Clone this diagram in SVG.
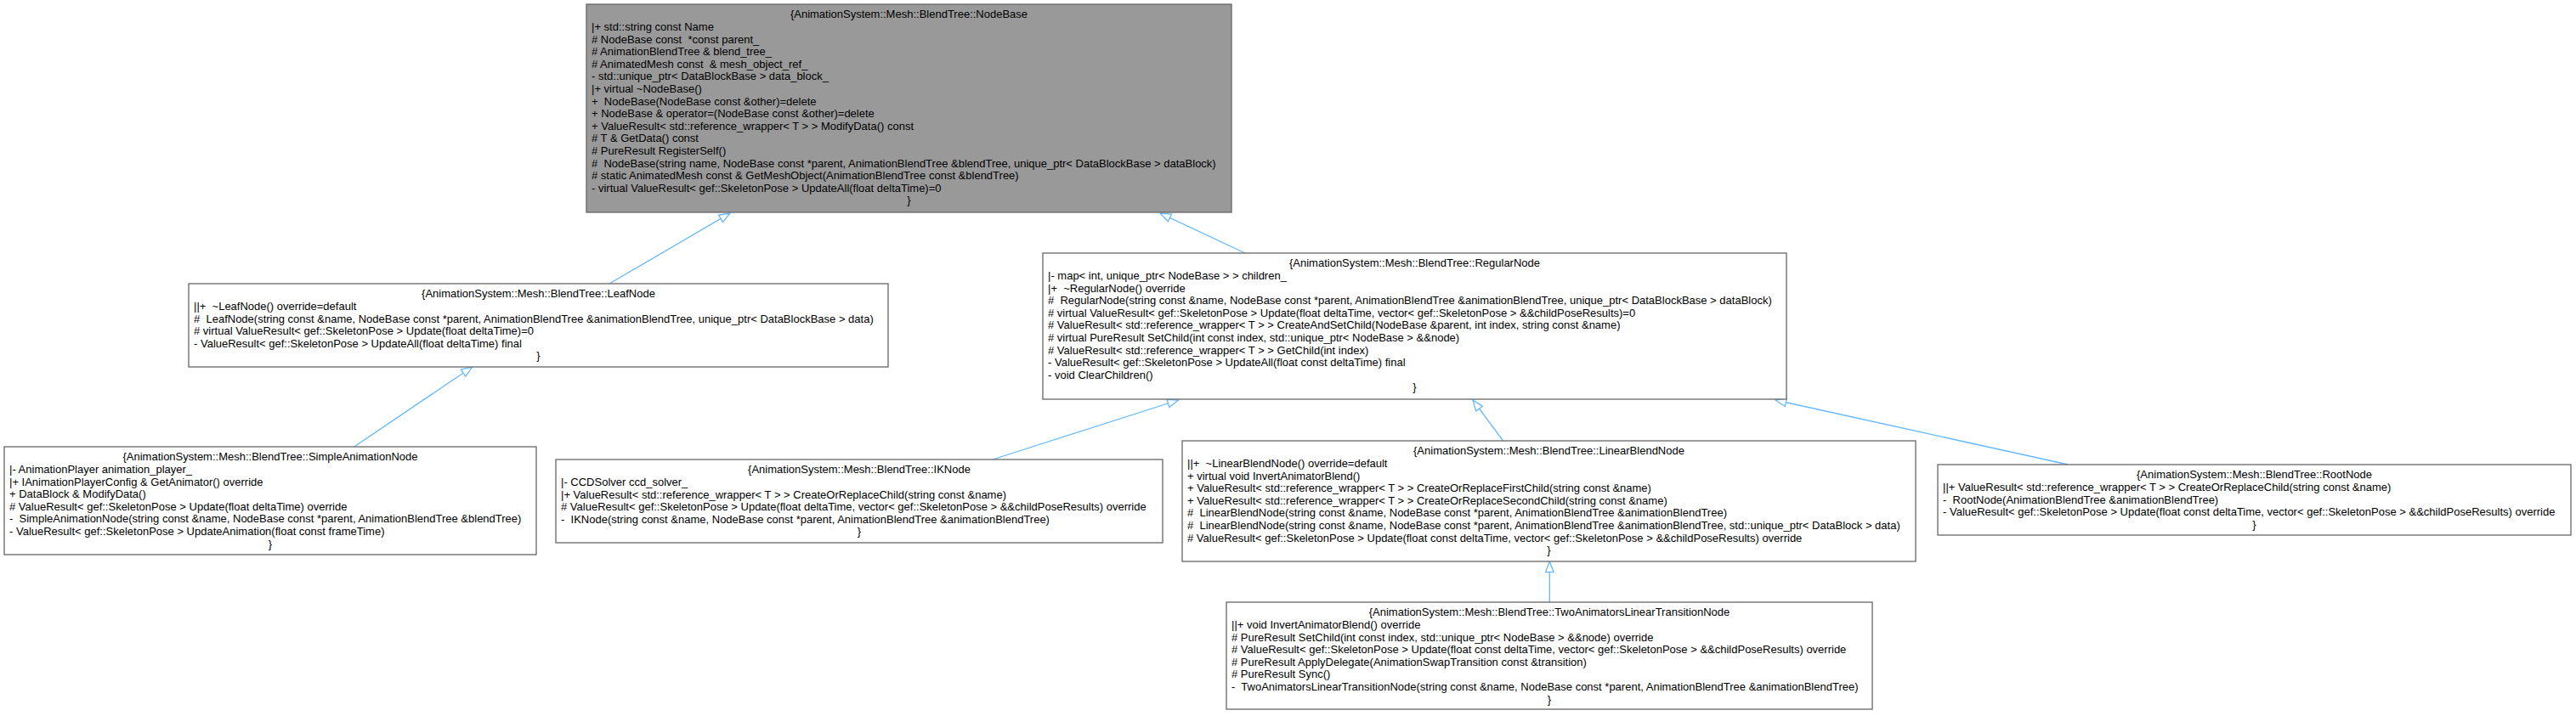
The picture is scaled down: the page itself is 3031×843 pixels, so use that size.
<svg xmlns="http://www.w3.org/2000/svg" width="3031" height="843" viewBox="0 0 3031 843">
<style>
  .box { fill: #ffffff; stroke: #666666; stroke-width: 1.3; }
  .base { fill: #999999; stroke: #666666; stroke-width: 1.3; }
  text { font-family: "Liberation Sans", Arial, sans-serif; font-size: 13px; fill: #000000; white-space: pre; }
  .c { text-anchor: middle; }
  .edge { fill: none; stroke: #63b8ff; stroke-width: 1.3; marker-end: url(#inh); }
</style>
<defs>
  <marker id="inh" markerUnits="userSpaceOnUse" viewBox="0 0 15 12" markerWidth="15" markerHeight="12" refX="13.5" refY="6" orient="auto">
    <path d="M0.8,1.2 L13.5,6 L0.8,10.8 Z" fill="#ffffff" stroke="#63b8ff" stroke-width="1.3"/>
  </marker>
</defs>
<rect width="3031" height="843" fill="#ffffff"/>

<g id="connectors">
  <path class="edge" d="M717,334 L859,251"/>
  <path class="edge" d="M1465,298 L1365,251"/>
  <path class="edge" d="M416.7,526 L555.6,432"/>
  <path class="edge" d="M1168,541 L1386.5,471"/>
  <path class="edge" d="M1768.6,519 L1733,471"/>
  <path class="edge" d="M2433.5,547 L2089,471"/>
  <path class="edge" d="M1823.3,709 L1823.3,661"/>
</g>

<g id="NodeBase">
  <rect class="base" x="690" y="5" width="759" height="245"/>
  <text class="c" x="1069.5" y="21.3">{AnimationSystem::Mesh::BlendTree::NodeBase</text>
  <text x="696" y="35.9">|+ std::string const Name</text>
  <text x="696" y="50.5"># NodeBase const  *const parent_</text>
  <text x="696" y="65.1"># AnimationBlendTree &amp; blend_tree_</text>
  <text x="696" y="79.7"># AnimatedMesh const  &amp; mesh_object_ref_</text>
  <text x="696" y="94.3">- std::unique_ptr&lt; DataBlockBase &gt; data_block_</text>
  <text x="696" y="108.9">|+ virtual ~NodeBase()</text>
  <text x="696" y="123.5">+  NodeBase(NodeBase const &amp;other)=delete</text>
  <text x="696" y="138.1">+ NodeBase &amp; operator=(NodeBase const &amp;other)=delete</text>
  <text x="696" y="152.7">+ ValueResult&lt; std::reference_wrapper&lt; T &gt; &gt; ModifyData() const</text>
  <text x="696" y="167.3"># T &amp; GetData() const</text>
  <text x="696" y="181.9"># PureResult RegisterSelf()</text>
  <text x="696" y="196.5">#  NodeBase(string name, NodeBase const *parent, AnimationBlendTree &amp;blendTree, unique_ptr&lt; DataBlockBase &gt; dataBlock)</text>
  <text x="696" y="211.1"># static AnimatedMesh const &amp; GetMeshObject(AnimationBlendTree const &amp;blendTree)</text>
  <text x="696" y="225.7">- virtual ValueResult&lt; gef::SkeletonPose &gt; UpdateAll(float deltaTime)=0</text>
  <text class="c" x="1069.5" y="240.3">}</text>
</g>

<g id="LeafNode">
  <rect class="box" x="222" y="334" width="823" height="98"/>
  <text class="c" x="633.5" y="350.3">{AnimationSystem::Mesh::BlendTree::LeafNode</text>
  <text x="228" y="364.9">||+  ~LeafNode() override=default</text>
  <text x="228" y="379.5">#  LeafNode(string const &amp;name, NodeBase const *parent, AnimationBlendTree &amp;animationBlendTree, unique_ptr&lt; DataBlockBase &gt; data)</text>
  <text x="228" y="394.1"># virtual ValueResult&lt; gef::SkeletonPose &gt; Update(float deltaTime)=0</text>
  <text x="228" y="408.7">- ValueResult&lt; gef::SkeletonPose &gt; UpdateAll(float deltaTime) final</text>
  <text class="c" x="633.5" y="423.3">}</text>
</g>

<g id="RegularNode">
  <rect class="box" x="1227" y="298" width="875" height="172"/>
  <text class="c" x="1664.5" y="314.3">{AnimationSystem::Mesh::BlendTree::RegularNode</text>
  <text x="1233" y="328.9">|- map&lt; int, unique_ptr&lt; NodeBase &gt; &gt; children_</text>
  <text x="1233" y="343.5">|+  ~RegularNode() override</text>
  <text x="1233" y="358.1">#  RegularNode(string const &amp;name, NodeBase const *parent, AnimationBlendTree &amp;animationBlendTree, unique_ptr&lt; DataBlockBase &gt; dataBlock)</text>
  <text x="1233" y="372.7"># virtual ValueResult&lt; gef::SkeletonPose &gt; Update(float deltaTime, vector&lt; gef::SkeletonPose &gt; &amp;&amp;childPoseResults)=0</text>
  <text x="1233" y="387.3"># ValueResult&lt; std::reference_wrapper&lt; T &gt; &gt; CreateAndSetChild(NodeBase &amp;parent, int index, string const &amp;name)</text>
  <text x="1233" y="401.9"># virtual PureResult SetChild(int const index, std::unique_ptr&lt; NodeBase &gt; &amp;&amp;node)</text>
  <text x="1233" y="416.5"># ValueResult&lt; std::reference_wrapper&lt; T &gt; &gt; GetChild(int index)</text>
  <text x="1233" y="431.1">- ValueResult&lt; gef::SkeletonPose &gt; UpdateAll(float const deltaTime) final</text>
  <text x="1233" y="445.7">- void ClearChildren()</text>
  <text class="c" x="1664.5" y="460.3">}</text>
</g>

<g id="SimpleAnimationNode">
  <rect class="box" x="5" y="526" width="626" height="127"/>
  <text class="c" x="318" y="542.3">{AnimationSystem::Mesh::BlendTree::SimpleAnimationNode</text>
  <text x="11" y="556.9">|- AnimationPlayer animation_player_</text>
  <text x="11" y="571.5">|+ IAnimationPlayerConfig &amp; GetAnimator() override</text>
  <text x="11" y="586.1">+ DataBlock &amp; ModifyData()</text>
  <text x="11" y="600.7"># ValueResult&lt; gef::SkeletonPose &gt; Update(float deltaTime) override</text>
  <text x="11" y="615.3">-  SimpleAnimationNode(string const &amp;name, NodeBase const *parent, AnimationBlendTree &amp;blendTree)</text>
  <text x="11" y="629.9">- ValueResult&lt; gef::SkeletonPose &gt; UpdateAnimation(float const frameTime)</text>
  <text class="c" x="318" y="644.5">}</text>
</g>

<g id="IKNode">
  <rect class="box" x="654" y="541" width="714" height="98"/>
  <text class="c" x="1011" y="557.3">{AnimationSystem::Mesh::BlendTree::IKNode</text>
  <text x="660" y="571.9">|- CCDSolver ccd_solver_</text>
  <text x="660" y="586.5">|+ ValueResult&lt; std::reference_wrapper&lt; T &gt; &gt; CreateOrReplaceChild(string const &amp;name)</text>
  <text x="660" y="601.1"># ValueResult&lt; gef::SkeletonPose &gt; Update(float deltaTime, vector&lt; gef::SkeletonPose &gt; &amp;&amp;childPoseResults) override</text>
  <text x="660" y="615.7">-  IKNode(string const &amp;name, NodeBase const *parent, AnimationBlendTree &amp;animationBlendTree)</text>
  <text class="c" x="1011" y="630.3">}</text>
</g>

<g id="LinearBlendNode">
  <rect class="box" x="1391" y="519" width="863" height="142"/>
  <text class="c" x="1822.5" y="535.3">{AnimationSystem::Mesh::BlendTree::LinearBlendNode</text>
  <text x="1397" y="549.9">||+  ~LinearBlendNode() override=default</text>
  <text x="1397" y="564.5">+ virtual void InvertAnimatorBlend()</text>
  <text x="1397" y="579.1">+ ValueResult&lt; std::reference_wrapper&lt; T &gt; &gt; CreateOrReplaceFirstChild(string const &amp;name)</text>
  <text x="1397" y="593.7">+ ValueResult&lt; std::reference_wrapper&lt; T &gt; &gt; CreateOrReplaceSecondChild(string const &amp;name)</text>
  <text x="1397" y="608.3">#  LinearBlendNode(string const &amp;name, NodeBase const *parent, AnimationBlendTree &amp;animationBlendTree)</text>
  <text x="1397" y="622.9">#  LinearBlendNode(string const &amp;name, NodeBase const *parent, AnimationBlendTree &amp;animationBlendTree, std::unique_ptr&lt; DataBlock &gt; data)</text>
  <text x="1397" y="637.5"># ValueResult&lt; gef::SkeletonPose &gt; Update(float const deltaTime, vector&lt; gef::SkeletonPose &gt; &amp;&amp;childPoseResults) override</text>
  <text class="c" x="1822.5" y="652.1">}</text>
</g>

<g id="RootNode">
  <rect class="box" x="2280" y="547" width="745" height="83"/>
  <text class="c" x="2652.5" y="563.3">{AnimationSystem::Mesh::BlendTree::RootNode</text>
  <text x="2286" y="577.9">||+ ValueResult&lt; std::reference_wrapper&lt; T &gt; &gt; CreateOrReplaceChild(string const &amp;name)</text>
  <text x="2286" y="592.5">-  RootNode(AnimationBlendTree &amp;animationBlendTree)</text>
  <text x="2286" y="607.1">- ValueResult&lt; gef::SkeletonPose &gt; Update(float const deltaTime, vector&lt; gef::SkeletonPose &gt; &amp;&amp;childPoseResults) override</text>
  <text class="c" x="2652.5" y="621.7">}</text>
</g>

<g id="TwoAnimatorsLinearTransitionNode">
  <rect class="box" x="1443" y="709" width="760" height="126"/>
  <text class="c" x="1823" y="725.3">{AnimationSystem::Mesh::BlendTree::TwoAnimatorsLinearTransitionNode</text>
  <text x="1449" y="739.9">||+ void InvertAnimatorBlend() override</text>
  <text x="1449" y="754.5"># PureResult SetChild(int const index, std::unique_ptr&lt; NodeBase &gt; &amp;&amp;node) override</text>
  <text x="1449" y="769.1"># ValueResult&lt; gef::SkeletonPose &gt; Update(float const deltaTime, vector&lt; gef::SkeletonPose &gt; &amp;&amp;childPoseResults) override</text>
  <text x="1449" y="783.7"># PureResult ApplyDelegate(AnimationSwapTransition const &amp;transition)</text>
  <text x="1449" y="798.3"># PureResult Sync()</text>
  <text x="1449" y="812.9">-  TwoAnimatorsLinearTransitionNode(string const &amp;name, NodeBase const *parent, AnimationBlendTree &amp;animationBlendTree)</text>
  <text class="c" x="1823" y="827.5">}</text>
</g>
</svg>
